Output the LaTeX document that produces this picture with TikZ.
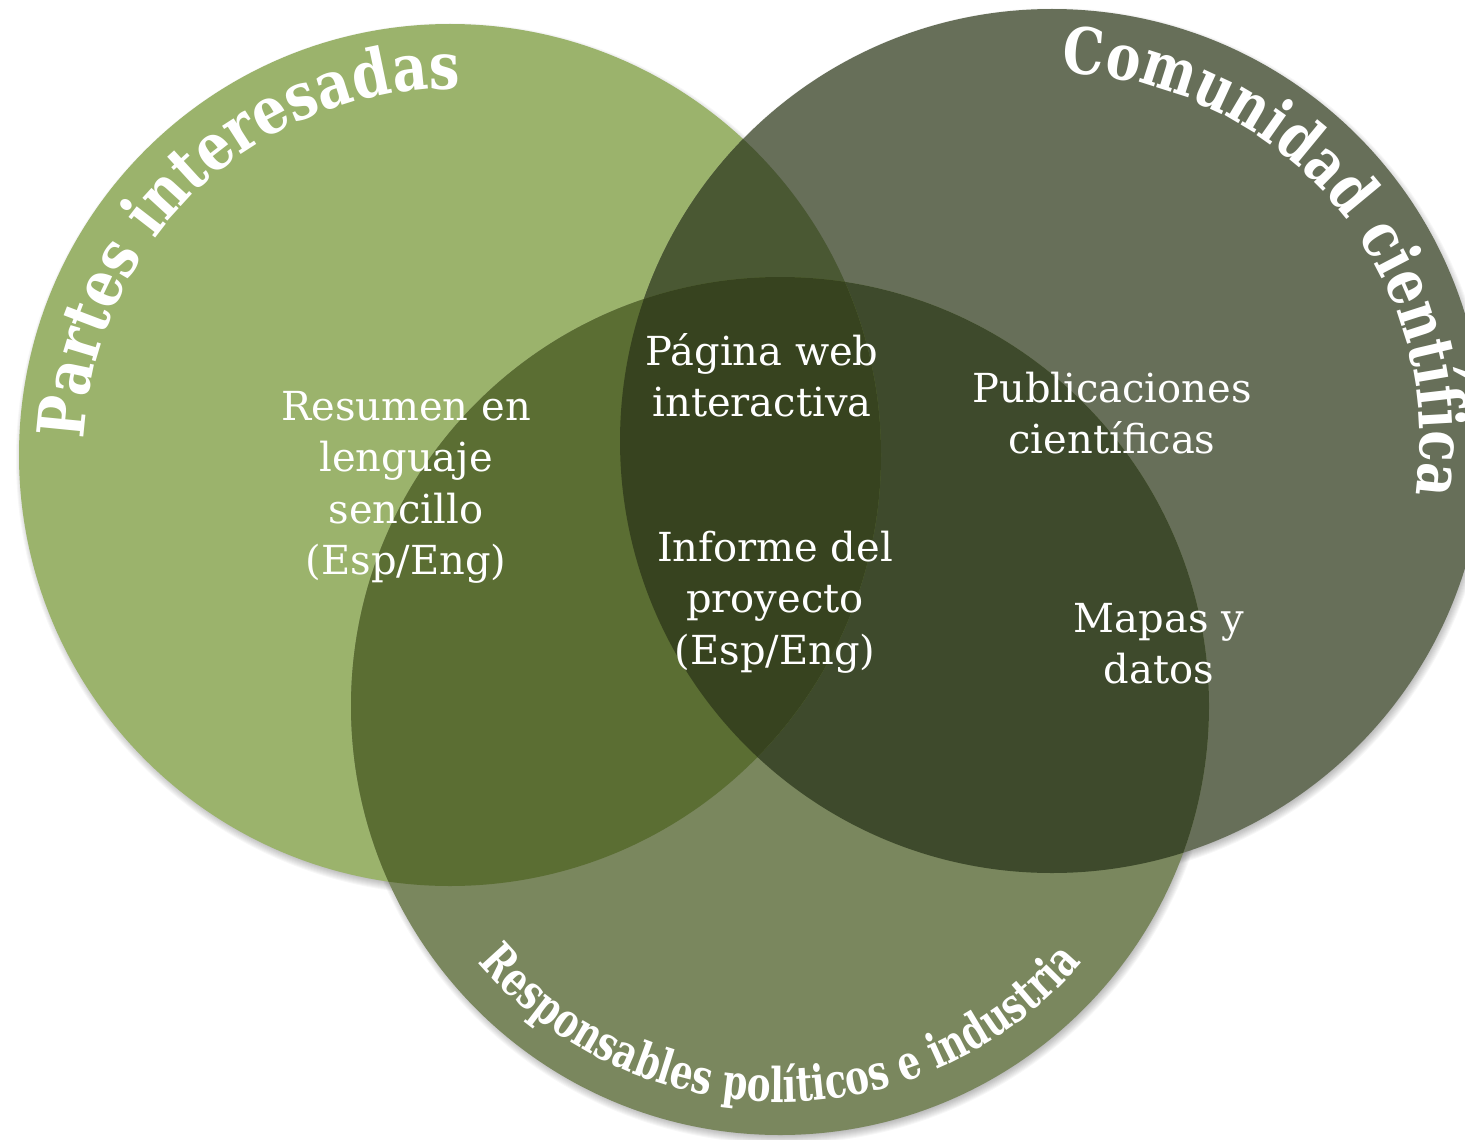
\documentclass[tikz,border=0pt]{standalone}
\usepackage{fontspec}
\setmainfont{DejaVu Serif}
\newfontfamily\labfontA[FakeStretch=0.84]{DejaVu Serif Bold}
\newfontfamily\labfontB[FakeStretch=0.81]{DejaVu Serif Bold}
\newfontfamily\labfontC[FakeStretch=0.745]{DejaVu Serif Bold}
\usetikzlibrary{decorations.text,calc}
\definecolor{cA}{HTML}{9BB36C}
\definecolor{cB}{HTML}{676F59}
\definecolor{cC}{HTML}{7A875E}
\definecolor{cAB}{HTML}{4A5833}
\definecolor{cAC}{HTML}{5B6E33}
\definecolor{cBC}{HTML}{3E4A2C}
\definecolor{cABC}{HTML}{37431F}
\begin{document}
\begin{tikzpicture}[x=0.5pt,y=0.5pt]
\useasboundingbox (0,0) rectangle (1465,-1139);
\coordinate (A) at (450,-455);
\coordinate (B) at (1052,-441);
\coordinate (C) at (780,-706);
\def\rA{431}\def\rB{432}\def\rC{429}
\tikzset{
  lbl/.style={text=white, align=center, inner sep=0pt, font=\fontsize{20}{25.75}\selectfont},
  shade ring/.style={black, opacity=0.03}
}
% soft shadows
\foreach \c/\r in {A/\rA,B/\rB,C/\rC}{
  \foreach \k in {0,...,9}{
    \fill[shade ring] ($(\c)+(2,-4)$) circle ({\r-4+\k});
  }
}
% regions
\fill[cA] (A) circle (\rA);
\fill[cB] (B) circle (\rB);
\fill[cC] (C) circle (\rC);
\begin{scope}
  \clip (B) circle (\rB);
  \fill[cBC] (C) circle (\rC);
\end{scope}
\begin{scope}
  \clip (A) circle (\rA);
  \fill[cAB] (B) circle (\rB);
  \fill[cAC] (C) circle (\rC);
  \clip (B) circle (\rB);
  \fill[cABC] (C) circle (\rC);
\end{scope}
% texts
\node[lbl] (resumen) at (406,-487.6) {Resumen en\\lenguaje\\sencillo\\(Esp/Eng)};
\node[lbl] (pagina) at (762,-375.5) {Página web\\interactiva};
\node[lbl] (informe) at (775,-602) {Informe del\\proyecto\\(Esp/Eng)};
\node[lbl] (public) at (1112,-413) {Publicaciones\\científicas};
\node[lbl] (mapas) at (1159,-643.5) {Mapas y\\datos};
% curved titles
\path[decorate,decoration={text along path, text align=center, text color=white,
  text={|\labfontA\fontsize{32.5}{32.5}\selectfont|Partes interesadas}}]
  ($(A)+(186:366)$) arc[start angle=186,end angle=80,radius=366];
\path[decorate,decoration={text along path, text align=center, text color=white,
  text={|\labfontB\fontsize{32}{32}\selectfont|Comunidad científica}}]
  ($(B)+(100:368)$) arc[start angle=100,end angle=-20,radius=368];
\path[decorate,decoration={text along path, text align=center, text color=white,
  text={|\labfontC\fontsize{24}{24}\selectfont|Responsables políticos e industria}}]
  ($(C)+(206:396)$) arc[start angle=206,end angle=334,radius=396];
\end{tikzpicture}
\end{document}
